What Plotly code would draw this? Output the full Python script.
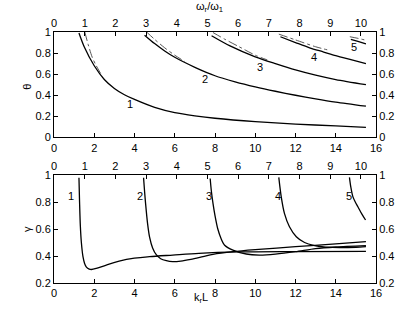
import plotly.graph_objects as go

# ---- top panel: theta vs k_r L ----
t1_kl = [1.24, 1.5, 2.0, 2.5, 3.0, 3.5, 4.0, 5.0, 6.0, 7.0, 8.0, 10, 12, 14, 15.5]
t1_th = [0.99, 0.86, 0.68, 0.55, 0.465, 0.405, 0.36, 0.285, 0.235, 0.205, 0.182, 0.15, 0.127, 0.109, 0.096]
t2_kl = [4.5, 5.0, 5.5, 6.0, 7.0, 8.0, 9.0, 10, 11, 12, 13, 14, 15.5]
t2_th = [0.97, 0.89, 0.82, 0.76, 0.665, 0.585, 0.528, 0.48, 0.438, 0.40, 0.366, 0.335, 0.296]
t3_kl = [7.83, 8.72, 10, 11, 12, 13, 14, 15.5]
t3_th = [0.965, 0.871, 0.765, 0.70, 0.64, 0.59, 0.548, 0.50]
t4_kl = [11.25, 12, 12.7, 13.4, 14, 14.8, 15.5]
t4_th = [0.955, 0.90, 0.85, 0.81, 0.775, 0.735, 0.70]
t5_kl = [14.75, 15.1, 15.5]
t5_th = [0.93, 0.91, 0.888]

d1_kl = [1.53, 1.7, 1.9, 2.1, 2.4]
d1_th = [1.0, 0.88, 0.76, 0.68, 0.58]
d2_kl = [4.6, 5.0, 5.5, 6.0, 6.5]
d2_th = [1.0, 0.93, 0.85, 0.78, 0.72]
d3_kl = [7.9, 8.5, 9.2, 10.0, 10.6]
d3_th = [0.995, 0.93, 0.86, 0.78, 0.735]
d4_kl = [11.17, 12.0, 13.0, 13.6]
d4_th = [0.98, 0.925, 0.86, 0.83]
d5_kl = [14.7, 15.1, 15.5]
d5_th = [0.955, 0.94, 0.922]

# ---- bottom panel: gamma vs k_r L ----
g1_kl = [1.24, 1.27, 1.31, 1.36, 1.44, 1.52, 1.61, 1.75, 1.86, 2.1, 2.6, 3.6, 4.75, 5.9, 7.2, 9.2, 12, 15.5]
g1_ga = [0.98, 0.8, 0.62, 0.5, 0.395, 0.345, 0.318, 0.303, 0.30, 0.308, 0.333, 0.375, 0.395, 0.407, 0.42, 0.43, 0.433, 0.435]
g2_kl = [4.45, 4.5, 4.55, 4.65, 4.75, 4.9, 5.08, 5.3, 5.58, 5.9, 6.3, 6.8, 7.4, 7.9, 8.9, 10, 12, 14, 15.5]
g2_ga = [0.98, 0.88, 0.79, 0.64, 0.54, 0.46, 0.41, 0.38, 0.365, 0.358, 0.362, 0.375, 0.395, 0.412, 0.432, 0.447, 0.469, 0.49, 0.506]
g3_kl = [7.76, 7.82, 7.9, 8.0, 8.14, 8.3, 8.48, 8.89, 9.55, 10.2, 11, 12, 13, 14, 15.5]
g3_ga = [0.975, 0.88, 0.79, 0.7, 0.6, 0.53, 0.48, 0.444, 0.415, 0.407, 0.414, 0.432, 0.455, 0.467, 0.477]
g4_kl = [11.17, 11.29, 11.45, 11.7, 12.04, 12.45, 12.9, 13.5, 14.2, 15.0, 15.5]
g4_ga = [0.983, 0.84, 0.716, 0.617, 0.543, 0.5, 0.478, 0.466, 0.462, 0.465, 0.47]
g5_kl = [14.68, 14.75, 14.85, 14.97, 15.1, 15.3, 15.48]
g5_ga = [0.983, 0.91, 0.84, 0.80, 0.765, 0.71, 0.667]

curve_labels = ["1", "2", "3", "4", "5"]
top_lab_kl = [3.76, 7.48, 10.25, 12.94, 14.93]
top_lab_th = [0.32, 0.55, 0.67, 0.766, 0.86]
bot_lab_kl = [0.86, 4.28, 7.68, 11.14, 14.68]
bot_lab_ga = [0.845, 0.845, 0.845, 0.845, 0.845]

x_ticks = [0, 2, 4, 6, 8, 10, 12, 14, 16]
top_ticks = [0, 1, 2, 3, 4, 5, 6, 7, 8, 9, 10]

FONT = "Liberation Sans, Arial, sans-serif"
fig = go.Figure()


def add(x, y, xa, ya, dash="solid", width=1.3, color="black"):
    fig.add_trace(go.Scatter(
        x=x, y=y, xaxis=xa, yaxis=ya, mode="lines",
        line=dict(color=color, width=width, dash=dash, shape="spline", smoothing=0.8),
        hoverinfo="skip", showlegend=False))


for kx, ky in [(d1_kl, d1_th), (d2_kl, d2_th), (d3_kl, d3_th), (d4_kl, d4_th), (d5_kl, d5_th)]:
    add(kx, ky, "x", "y", dash="dashdot", width=0.9, color="#444")
for kx, ky in [(t1_kl, t1_th), (t2_kl, t2_th), (t3_kl, t3_th), (t4_kl, t4_th), (t5_kl, t5_th)]:
    add(kx, ky, "x", "y")
for kx, ky in [(g1_kl, g1_ga), (g2_kl, g2_ga), (g3_kl, g3_ga), (g4_kl, g4_ga), (g5_kl, g5_ga)]:
    add(kx, ky, "x2", "y2")

# empty traces so that the top / right companion axes are drawn
for xa, ya in [("x3", "y"), ("x", "y3"), ("x4", "y2"), ("x2", "y4")]:
    fig.add_trace(go.Scatter(x=[], y=[], xaxis=xa, yaxis=ya, mode="lines",
                             hoverinfo="skip", showlegend=False))

ax = dict(showline=True, linecolor="black", linewidth=1, ticks="inside", ticklen=4,
          tickcolor="black", tickwidth=1, showgrid=False, zeroline=False,
          tickfont=dict(size=11, color="black", family=FONT))

TOP_MAX = 10.49
fig.update_layout(
    width=415, height=316,
    margin=dict(l=54, r=39, t=32, b=33),
    paper_bgcolor="white", plot_bgcolor="white",
    font=dict(family=FONT, size=11, color="black"),
    hovermode=False,
    xaxis=dict(ax, domain=[0, 1], anchor="y", range=[0, 16], tickvals=x_ticks),
    xaxis3=dict(ax, overlaying="x", side="top", anchor="y", range=[0, TOP_MAX], tickvals=top_ticks),
    yaxis=dict(ax, domain=[0.58, 1], anchor="x", range=[0, 1], dtick=0.2),
    yaxis3=dict(ax, overlaying="y", side="right", anchor="x", range=[0, 1], dtick=0.2),
    xaxis2=dict(ax, domain=[0, 1], anchor="y2", range=[0, 16], tickvals=x_ticks),
    xaxis4=dict(ax, overlaying="x2", side="top", anchor="y2", range=[0, TOP_MAX], tickvals=top_ticks),
    yaxis2=dict(ax, domain=[0, 0.43], anchor="x2", range=[0.2, 1], dtick=0.2),
    yaxis4=dict(ax, overlaying="y2", side="right", anchor="x2", range=[0.2, 1], dtick=0.2),
)

ann = []
for t, x, y in zip(curve_labels, top_lab_kl, top_lab_th):
    ann.append(dict(text=t, x=x, y=y, xref="x", yref="y", showarrow=False,
                    font=dict(size=11, color="black")))
for t, x, y in zip(curve_labels, bot_lab_kl, bot_lab_ga):
    ann.append(dict(text=t, x=x, y=y, xref="x2", yref="y2", showarrow=False,
                    font=dict(size=11, color="black")))
ann.append(dict(text="θ", x=-0.084, y=0.782, xref="paper", yref="paper", showarrow=False,
                xanchor="center", yanchor="middle", textangle=-90, font=dict(size=11, color="black")))
ann.append(dict(text="γ", x=-0.084, y=0.215, xref="paper", yref="paper", showarrow=False,
                xanchor="center", yanchor="middle", textangle=-90, font=dict(size=11, color="black")))
ann.append(dict(text="ω<sub>r</sub>/ω<sub>1</sub>", x=0.484, y=1.1, xref="paper", yref="paper",
                xanchor="center", yanchor="middle", showarrow=False, font=dict(size=11, color="black")))
ann.append(dict(text="k<sub>r</sub>L", x=0.455, y=-0.06, xref="paper", yref="paper",
                xanchor="center", yanchor="middle", showarrow=False, font=dict(size=11, color="black")))
fig.update_layout(annotations=ann)

fig.write_html("out.html", config={"displayModeBar": False},
               post_script="document.body.style.margin='0';document.body.style.overflow='hidden';")
